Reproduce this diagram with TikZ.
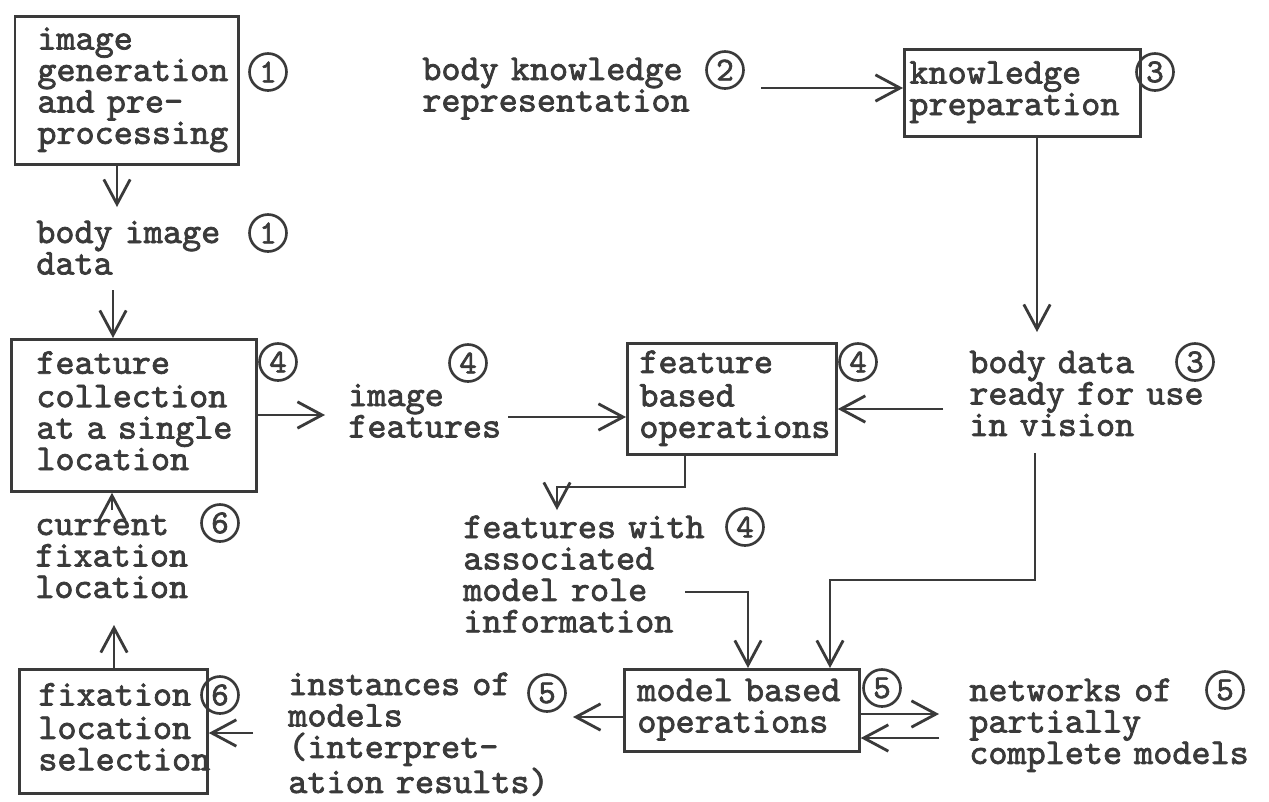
\documentclass[tikz,border=0pt]{standalone}
\usepackage{fontspec}
\usepackage{xcolor}
\usetikzlibrary{arrows.meta}
\newfontfamily\typeFont{lmmono10-regular.otf}[HyphenChar=None, FakeBold=2]
\newcommand{\typeText}{\typeFont\fontsize{20.7}{17.9}\selectfont}
\newcommand{\digitText}{\typeFont\fontsize{19}{19}\selectfont}
\definecolor{inkGrey}{HTML}{3A3A3A}
\setlength{\parindent}{0pt}

\begin{document}
\begin{tikzpicture} [
    x=0.02cm, y=-0.02cm,
    process/.style={rectangle, draw=inkGrey, line width=1.6pt, anchor=north west, align=left, inner ysep=0pt, text=inkGrey, font=\typeText, execute at begin node=\strut, execute at end node=\strut},
    flowText/.style={anchor=base west, align=left, inner sep=0pt, text width=6cm, text=inkGrey, font=\typeText},
    numTag/.style={circle, draw=inkGrey, line width=1.5pt, inner sep=0pt, minimum size=0.74cm, text=inkGrey, font=\digitText},
    arrow/.style={line width=1.6pt, draw=inkGrey, -{Straight Barb[length=14pt, width=15pt]}}
]
    \path[use as bounding box, fill=white] (0,0) rectangle (1269,802);

    % top row
    \node[process, text width=3.57cm, inner xsep=0.45cm, minimum height=2.96cm] (imgGen) at (13.5,15) {image\\generation\\and pre-\\processing};
    \node[numTag] (imgGenNum) at (268,72) {1};

    \node[flowText] (bodyKnow) at (422,80) {body knowledge\\representation};
    \node[numTag] (bodyKnowNum) at (725,70) {2};

    \node[process, text width=4.52cm, inner xsep=0.1cm, minimum height=1.74cm] (knowPrep) at (903,48) {knowledge\\preparation};
    \node[numTag] (knowPrepNum) at (1155,72) {3};

    \node[flowText] (bodyImg) at (36,243) {body image\\data};
    \node[numTag] (bodyImgNum) at (268,233) {1};

    % middle row
    \node[process, text width=3.9cm, inner xsep=0.5cm, minimum height=3.04cm] (featColl) at (10,338) {feature\\collection\\at~a~single\\location};
    \node[numTag] (featCollNum) at (278,362) {4};

    \node[flowText] (imgFeat) at (348,406) {image\\features};
    \node[numTag] (imgFeatNum) at (468,363) {4};

    \node[process, text width=3.7cm, inner xsep=0.24cm, minimum height=2.22cm] (featOps) at (626,342) {feature\\based\\operations};
    \node[numTag] (featOpsNum) at (858,362) {4};

    \node[flowText] (bodyData) at (969,373) {body data\\ready for use\\in vision};
    \node[numTag] (bodyDataNum) at (1195,362) {3};

    \node[flowText] (curFix) at (35,535) {current\\fixation\\location};
    \node[numTag] (curFixNum) at (220,523) {6};

    \node[flowText] (featRole) at (463,538) {features with\\associated\\model role\\information};
    \node[numTag] (featRoleNum) at (745,527) {4};

    % bottom row
    \node[process, text width=3.0cm, inner xsep=0.38cm, minimum height=2.48cm] (fixSel) at (18,668) {fixation\\location\\selection};
    \node[numTag] (fixSelNum) at (220,695) {6};

    \node[flowText] (instances) at (288,695) {instances of\\models\\(interpret-\\ation results)};
    \node[numTag] (instancesNum) at (547,693) {5};

    \node[process, text width=4.18cm, inner xsep=0.26cm, minimum height=1.64cm] (modelOps) at (623,668) {model~based\\operations};
    \node[numTag] (modelOpsNum) at (882,688) {5};

    \node[flowText] (networks) at (969,701) {networks of\\partially\\complete models};
    \node[numTag] (networksNum) at (1225,690) {5};

    % connectors
    \coordinate (bodyImgIn) at (117,207);
    \coordinate (bodyImgOut) at (113,290);
    \coordinate (curFixIn) at (114,625);
    \coordinate (curFixOut) at (112,510);
    \coordinate (imgFeatIn) at (325,415);
    \coordinate (imgFeatOut) at (508,417);
    \coordinate (bodyKnowOut) at (761,88);
    \coordinate (bodyDataIn) at (1037,332);
    \coordinate (bodyDataOut) at (1035,453);
    \coordinate (bodyDataBend) at (830,580);
    \coordinate (featOpsIn) at (943,409);
    \coordinate (featOpsBend) at (685,487);
    \coordinate (featRoleIn) at (557,510);
    \coordinate (featRoleOut) at (685,592);
    \coordinate (featRoleBend) at (748,592);
    \coordinate (instancesIn) at (573,717);
    \coordinate (instancesOut) at (253,733);
    \coordinate (networksIn) at (939,714);
    \coordinate (networksOut) at (939,738);

    \draw[arrow] (imgGen.south -| bodyImgIn) -- (bodyImgIn);
    \draw[arrow] (bodyImgOut) -- (bodyImgOut |- featColl.north);
    \draw[arrow] (fixSel.north -| curFixIn) -- (curFixIn);
    \draw[arrow] (curFixOut) -- (curFixOut |- featColl.south);
    \draw[arrow] (featColl.east |- imgFeatIn) -- (imgFeatIn);
    \draw[arrow] (imgFeatOut) -- (imgFeatOut -| featOps.west);
    \draw[arrow] (bodyKnowOut) -- (bodyKnowOut -| knowPrep.west);
    \draw[arrow] (knowPrep.south -| bodyDataIn) -- (bodyDataIn);
    \draw[arrow] (featOpsIn) -- (featOpsIn -| featOps.east);
    \draw[arrow] (bodyDataOut) |- (bodyDataBend) -- (bodyDataBend |- modelOps.north);
    \draw[arrow] (featOps.south -| featOpsBend) -- (featOpsBend) -| (featRoleIn);
    \draw[arrow] (featRoleOut) -- (featRoleBend) -- (featRoleBend |- modelOps.north);
    \draw[arrow] (modelOps.west |- instancesIn) -- (instancesIn);
    \draw[arrow] (instancesOut) -- (instancesOut -| fixSel.east);
    \draw[arrow] (modelOps.east |- networksIn) -- (networksIn);
    \draw[arrow] (networksOut) -- (networksOut -| modelOps.east);

\end{tikzpicture}
\end{document}
